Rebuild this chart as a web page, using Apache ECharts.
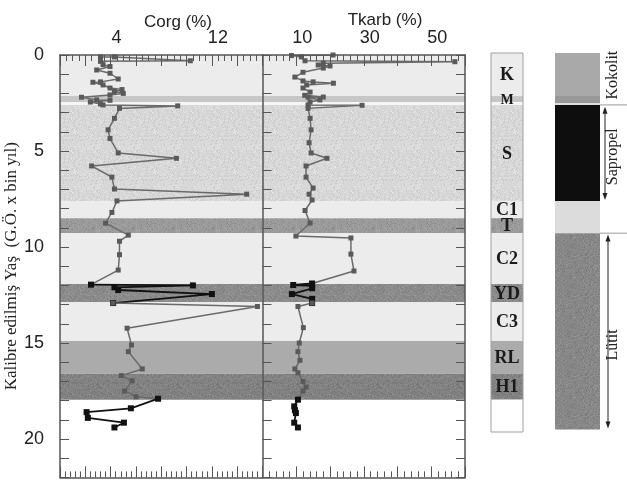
<!DOCTYPE html>
<html><head><meta charset="utf-8">
<script src="https://cdn.jsdelivr.net/npm/echarts@6/dist/echarts.min.js"></script>
<style>html,body{margin:0;padding:0;background:#fff}#c{width:627px;height:482px}</style>
</head><body><div id="c"></div>
<script>
// ---------- DATA ----------
// Corg (%) vs age (ka BP)
const corgAge1 = [0.1,0.1,0.3,0.33,0.5,0.6,0.78,0.95,1.25,1.4,1.42,1.56,1.72,1.8,1.9,2.0,2.08,2.2,2.34,2.36,2.45,2.55,2.6,2.65,2.78,3.3,3.9,4.35,5.1,5.38,5.78,6.36,6.98,7.25,7.6,8.2,8.76,9.38,9.7,10.4,11.2,11.96];
const corgVal1 = [3.2,4.3,10.3,3.2,3.4,3.95,2.9,3.95,4.6,3.2,2.6,3.4,3.95,4.9,4.3,5.0,3.95,1.7,2.9,3.95,2.4,3.2,3.4,9.3,4.7,4.3,3.8,3.95,4.6,9.2,2.5,4.1,4.3,14.75,4.5,4.1,3.6,5.4,4.7,4.7,4.6,2.45];
const corgAge2 = [11.96,12.0,12.1,12.24,12.45,12.92];
const corgVal2 = [2.45,10.5,4.3,4.6,12.0,4.2];
const corgAge3 = [12.92,13.1,14.23,15.1,15.45,16.35,16.7,16.97,17.5,17.8,17.9];
const corgVal3 = [4.2,15.6,5.3,5.65,5.4,6.5,4.85,5.7,5.1,6.0,7.75];
const corgAge4 = [17.9,18.4,18.6,18.9,19.15,19.4];
const corgVal4 = [7.75,5.6,2.1,2.2,5.05,4.3];
// Tkarb (%) vs age
const tkAge1 = [0.0,0.03,0.1,0.3,0.35,0.43,0.52,0.57,0.68,0.9,1.15,1.35,1.4,1.47,1.56,1.72,1.93,2.1,2.19,2.2,2.34,2.45,2.6,2.62,2.78,3.3,3.9,4.57,5.1,5.38,5.78,6.36,6.93,7.25,7.55,8.1,8.75,9.43,9.53,10.37,11.25,11.9];
const tkVal1 = [20.9,8.6,11.5,12.6,57.0,18.0,16.5,20.0,18.0,12.0,9.6,12.0,15.0,21.0,13.1,12.0,14.1,12.5,18.0,13.5,17.0,14.1,13.5,29.5,13.5,14.1,14.4,13.8,14.4,19.1,12.9,12.9,15.0,13.8,14.7,12.6,14.1,9.9,26.2,26.2,27.1,14.7];
const tkAge2 = [11.9,11.98,12.03,12.15,12.45,12.7,12.92];
const tkVal2 = [14.7,9.1,14.7,14.7,8.7,14.7,14.7];
const tkAge3 = [12.92,13.1,14.2,15.0,15.45,15.9,16.35,16.55,17.0,17.3,17.5,17.95];
const tkVal3 = [14.7,10.5,12.1,10.9,10.5,11.1,9.6,10.5,12.0,12.9,12.0,10.5];
const tkAge4 = [17.95,18.3,18.5,18.65,19.15,19.4];
const tkVal4 = [10.5,9.4,9.6,9.9,9.4,10.5];
// Stratigraphic zones (age limits)
const zoneName   = ['K','M','','S','C1','T','C2','YD','C3','RL','H1',''];
const zoneTop    = [-0.1,2.14,2.46,2.6,7.6,8.5,9.28,11.93,12.87,14.9,16.6,17.95];
const zoneBottom = [2.14,2.46,2.6,7.6,8.5,9.28,11.93,12.87,14.9,16.6,17.95,19.64];
// Lithology column
const lithoTop    = [-0.1,2.14,2.5,2.6,7.6,9.28];
const lithoBottom = [2.14,2.5,2.6,7.6,9.28,19.5];
const lithoLabel    = ['Kokolit','Sapropel','Lütit'];
const lithoLabelAge = [1.05,5.3,15.1];
const lithoArrowTop    = [2.7,9.35];
const lithoArrowBottom = [7.55,19.45];
const lithoBoundary = [2.6,9.28];
// Axis tick labels
const corgTicks = [4,12];
const tkTicks = [10,30,50];
const ageTicks = [0,5,10,15,20];

// ---------- STYLE HELPERS ----------
function stipple(base, dark, light, seed){
  const c=document.createElement('canvas'); c.width=c.height=40;
  const g=c.getContext('2d'); g.fillStyle=base; g.fillRect(0,0,40,40);
  let s=seed;
  const r=()=>{ s=(s*16807)%2147483647; return s/2147483647; };
  for(let i=0;i<520;i++){ const x=Math.floor(r()*40), y=Math.floor(r()*40); g.fillStyle=r()<0.5?dark:light; g.fillRect(x,y,1,1); }
  return {image:c, repeat:'repeat'};
}
const zoneFill = [
  '#ececec', '#c6c6c6', '#f6f6f6',
  stipple('#d8d8d8','#c9c9c9','#e4e4e4',11),
  '#ececec',
  stipple('#9a9a9a','#8e8e8e','#a6a6a6',23),
  '#ececec',
  stipple('#8b8b8b','#7e7e7e','#989898',37),
  '#ececec', '#ababab',
  stipple('#828282','#747474','#8f8f8f',51),
  '#ffffff'
];
const lithoFill = ['#a9a9a9','#989898','#dedede','#0e0e0e','#dcdcdc', stipple('#878787','#7a7a7a','#949494',71)];

const pairs=(a,v)=>a.map((y,i)=>[v[i],y]);
const axisCol='#555';
const SANS='"Liberation Sans", Arial, sans-serif';
const SERIF='"Liberation Serif", "Times New Roman", serif';
const GT=55, GH=422.4;

function xTop(grid, max, interval, minorSplit, shown){
  return {gridIndex:grid, type:'value', position:'top', min:0, max:max, interval:interval, z:10,
    axisLine:{onZero:false,lineStyle:{color:axisCol,width:1.5}},
    axisTick:{inside:true,interval:0,length:11,lineStyle:{color:axisCol,width:1}},
    minorTick:{show:true,splitNumber:minorSplit,length:6,lineStyle:{color:axisCol,width:1}},
    splitLine:{show:false},
    axisLabel:{interval:0,margin:8,fontSize:18,color:'#222',fontFamily:SANS,padding:[0,0,0,12],
      formatter:v=>shown.indexOf(v)>=0?String(v):''}};
}
function xBot(grid, max, interval, minorSplit){
  return {gridIndex:grid, type:'value', position:'bottom', min:0, max:max, interval:interval, z:10,
    axisLine:{onZero:false,lineStyle:{color:axisCol,width:1.5}},
    axisTick:{inside:true,interval:0,length:11,lineStyle:{color:axisCol,width:1}},
    minorTick:{show:true,splitNumber:minorSplit,length:6,lineStyle:{color:axisCol,width:1}},
    splitLine:{show:false}, axisLabel:{show:false}};
}
function yAx(grid, pos, labels, extra){
  return Object.assign({gridIndex:grid, type:'value', position:pos, inverse:true, min:0, max:22, interval:1, z:10,
    axisLine:{show:true,onZero:false,lineStyle:{color:axisCol,width:1.5}},
    axisTick:{show:true,inside:true,interval:0,length:9,lineStyle:{color:axisCol,width:1}},
    splitLine:{show:false},
    axisLabel:labels?{interval:0,margin:16,fontSize:18,color:'#222',fontFamily:SANS,formatter:v=>ageTicks.indexOf(v)>=0?String(v):''}:{show:false}}, extra||{});
}
function hidden(grid, min, max, inv){
  return {gridIndex:grid, type:'value', min:min, max:max, inverse:!!inv, show:false};
}

const bandData = zoneTop.map((t,i)=>[t,zoneBottom[i],i]).slice(0,11);
function bandRender(params, api){
  const cs=params.coordSys;
  const y1=api.coord([0,api.value(0)])[1], y2=api.coord([0,api.value(1)])[1];
  return {type:'rect', shape:{x:cs.x,y:y1,width:cs.width,height:y2-y1}, style:{fill:zoneFill[api.value(2)]}};
}
function lineSeries(name, data, xi, yi, black){
  return {name:name, type:'line', xAxisIndex:xi, yAxisIndex:yi, data:data, z:5, animation:false,
    symbol:'rect', symbolSize:black?6:5, showSymbol:true,
    lineStyle:{color:black?'#111':'#6a6a6a', width:black?1.8:1.5},
    itemStyle:{color:black?'#111':'#5a5a5a'}};
}

const colData = zoneTop.map((t,i)=>[t,zoneBottom[i],i]);
function colRender(params, api){
  const cs=params.coordSys; const i=api.value(2);
  const y1=api.coord([0,api.value(0)])[1], y2=api.coord([0,api.value(1)])[1];
  return {type:'rect', shape:{x:cs.x,y:y1,width:cs.width,height:y2-y1}, style:{fill:zoneFill[i]}};
}
function colLabelRender(params, api){
  const cs=params.coordSys; const i=api.value(2);
  if(!zoneName[i]) return null;
  const y1=api.coord([0,api.value(0)])[1], y2=api.coord([0,api.value(1)])[1];
  return {type:'text', x:cs.x+cs.width/2, y:(y1+y2)/2+1,
    style:{text:zoneName[i], fontFamily:SERIF, fontWeight:'bold', fontSize:zoneName[i]==='M'?14:18, fill:'#1a1a1a', align:'center', verticalAlign:'middle'}};
}
const lithoData = lithoTop.map((t,i)=>[t,lithoBottom[i],i]);
function lithoRender(params, api){
  const cs=params.coordSys; const i=api.value(2);
  const y1=api.coord([0,api.value(0)])[1], y2=api.coord([0,api.value(1)])[1];
  return {type:'rect', shape:{x:cs.x,y:y1,width:45,height:y2-y1}, style:{fill:lithoFill[i]}};
}
const annData = lithoLabel.map((l,i)=>[lithoLabelAge[i],i]);
function annRender(params, api){
  const cs=params.coordSys; const i=api.value(1);
  const kids=[];
  const ty=api.coord([0,api.value(0)])[1];
  kids.push({type:'text', x:cs.x+58, y:ty, rotation:Math.PI/2,
    style:{text:lithoLabel[i], fontFamily:SERIF, fontSize:16, fill:'#222', align:'center', verticalAlign:'middle'}});
  if(i<2){
    const ax = cs.x + (i===0?50:53);
    const a1=api.coord([0,lithoArrowTop[i]])[1], a2=api.coord([0,lithoArrowBottom[i]])[1];
    kids.push({type:'line', shape:{x1:ax,y1:a1+3,x2:ax,y2:a2-3}, style:{stroke:'#222',lineWidth:1}});
    kids.push({type:'polygon', shape:{points:[[ax,a1],[ax-2.5,a1+7],[ax+2.5,a1+7]]}, style:{fill:'#222'}});
    kids.push({type:'polygon', shape:{points:[[ax,a2],[ax-2.5,a2-7],[ax+2.5,a2-7]]}, style:{fill:'#222'}});
    const by=api.coord([0,lithoBoundary[i]])[1];
    kids.push({type:'line', shape:{x1:cs.x+45,y1:by,x2:cs.x+72,y2:by}, style:{stroke:'#9a9a9a',lineWidth:1}});
  }
  return {type:'group', children:kids};
}

const chart = echarts.init(document.getElementById('c'), null, {renderer:'canvas'});
chart.setOption({
  animation:false,
  backgroundColor:'#fff',
  title:[
    {text:'Corg (%)', left:173, top:9, textAlign:'center', textStyle:{fontSize:17,fontWeight:'normal',color:'#222',fontFamily:SANS}},
    {text:'Tkarb (%)', left:380, top:7, textAlign:'center', textStyle:{fontSize:17,fontWeight:'normal',color:'#222',fontFamily:SANS}}
  ],
  grid:[
    {left:60, top:GT, width:202.5, height:GH, outerBoundsMode:'none'},
    {left:262.5, top:GT, width:202.5, height:GH, outerBoundsMode:'none'},
    {left:491, top:GT, width:32, height:GH, outerBoundsMode:'none'},
    {left:555, top:GT, width:72, height:GH, outerBoundsMode:'none'}
  ],
  xAxis:[
    xTop(0,16,2,4,corgTicks), xBot(0,16,2,5),
    xTop(1,60,10,5,tkTicks), xBot(1,60,10,5),
    hidden(2,0,1), hidden(3,0,72)
  ],
  yAxis:[
    yAx(0,'left',true,{name:'Kalibre edilmiş Yaş  (G.Ö. x bin yıl)', nameLocation:'middle', nameRotate:90, nameGap:27,
      nameTextStyle:{fontFamily:SERIF,fontSize:17,color:'#222'}}),
    yAx(1,'left',false),
    yAx(1,'right',false),
    hidden(2,0,22,true), hidden(3,0,22,true)
  ],
  graphic:[
    {type:'rect', shape:{x:491,y:53,width:32,height:379}, style:{fill:'none',stroke:'#a0a0a0',lineWidth:1}, z:50}
  ],
  series:[
    {type:'custom', xAxisIndex:0, yAxisIndex:0, data:bandData, renderItem:bandRender, z:1, silent:true, clip:true},
    {type:'custom', xAxisIndex:2, yAxisIndex:1, data:bandData, renderItem:bandRender, z:1, silent:true, clip:true},
    lineSeries('c1', pairs(corgAge1,corgVal1), 0, 0, false),
    lineSeries('c2', pairs(corgAge2,corgVal2), 0, 0, true),
    lineSeries('c3', pairs(corgAge3,corgVal3), 0, 0, false),
    lineSeries('c4', pairs(corgAge4,corgVal4), 0, 0, true),
    lineSeries('t1', pairs(tkAge1,tkVal1), 2, 1, false),
    lineSeries('t2', pairs(tkAge2,tkVal2), 2, 1, true),
    lineSeries('t3', pairs(tkAge3,tkVal3), 2, 1, false),
    lineSeries('t4', pairs(tkAge4,tkVal4), 2, 1, true),
    {type:'custom', xAxisIndex:4, yAxisIndex:3, data:colData, renderItem:colRender, z:2, silent:true},
    {type:'custom', xAxisIndex:4, yAxisIndex:3, data:colData, renderItem:colLabelRender, z:4, silent:true},
    {type:'custom', xAxisIndex:5, yAxisIndex:4, data:lithoData, renderItem:lithoRender, z:2, silent:true},
    {type:'custom', xAxisIndex:5, yAxisIndex:4, data:annData, renderItem:annRender, z:3, silent:true}
  ]
});
</script>
</body></html>
